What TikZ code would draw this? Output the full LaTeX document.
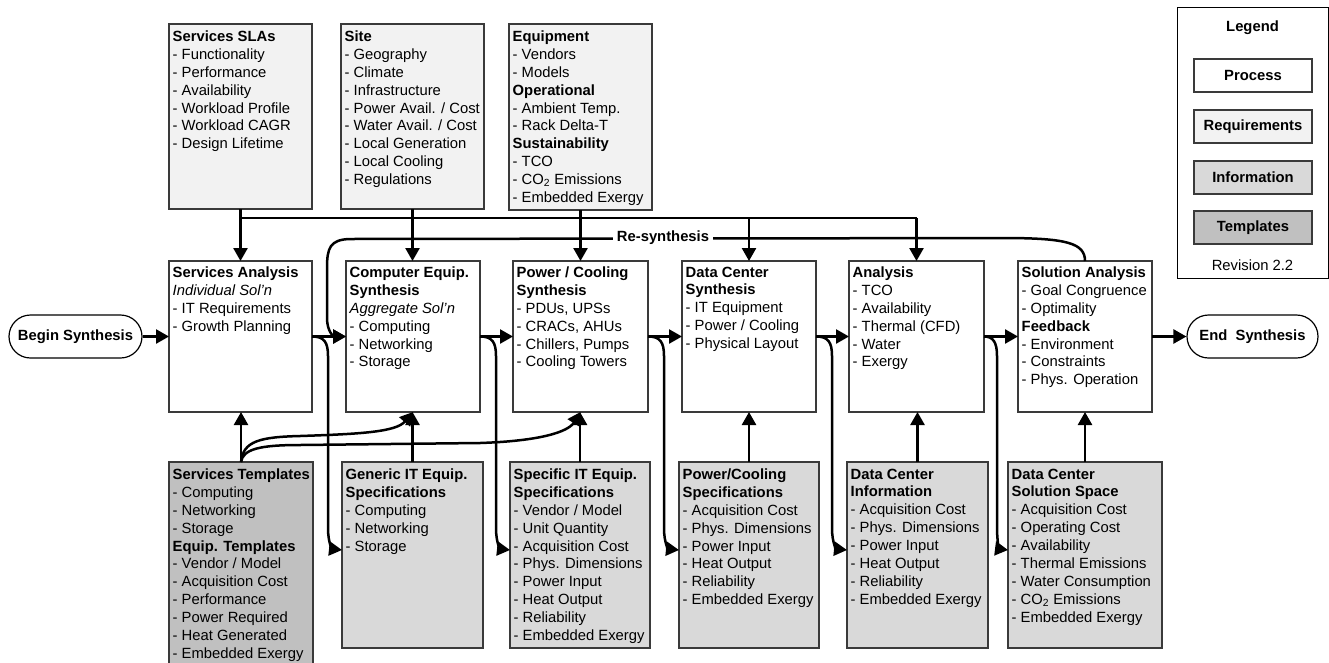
\documentclass[tikz,border=0pt]{standalone}
\usepackage{fontspec}
\setmainfont{Liberation Sans}
\usetikzlibrary{arrows.meta}
\definecolor{reqc}{HTML}{F2F2F2}
\definecolor{infoc}{HTML}{D9D9D9}
\definecolor{tmplc}{HTML}{C0C0C0}
\definecolor{edgec}{HTML}{3A3A3A}
\tikzset{
  bx/.style={draw=edgec, line width=1.2pt, anchor=north west, inner sep=0pt, outer sep=0pt},
  procbox/.style={bx, fill=white, minimum height=151pt},
  reqbox/.style={bx, fill=reqc},
  infobox/.style={bx, fill=infoc, minimum height=186pt},
  tmplbox/.style={bx, fill=tmplc},
  txt/.style={anchor=north west, align=left, inner xsep=3.5pt, inner ysep=6.5pt, font=\fontsize{14.8}{17.9}\selectfont},
  ptxt/.style={txt, inner ysep=5.5pt},
  conn/.style={line width=2.5pt, -{Triangle[length=13pt,width=14pt]}},
  plain/.style={line width=2.5pt},
  term/.style={draw=black, line width=1.2pt, rounded corners=21.5pt, minimum height=43pt, inner sep=0pt, font=\fontsize{14.8}{17.9}\selectfont\bfseries},
  legbox/.style={draw=edgec, line width=1.2pt, minimum width=118pt, minimum height=33pt, inner sep=0pt, font=\fontsize{14.8}{17.9}\selectfont\bfseries},
}
\begin{document}
\begin{tikzpicture}[x=1pt,y=-1pt]
\useasboundingbox (0,0) rectangle (1329,662);

% ---------- top requirement boxes ----------
\node[reqbox, minimum width=143pt, minimum height=185pt] (sla) at (169,24) {};
\node[txt] (slat) at (sla.north west) {\textbf{Services SLAs}\\- Functionality\\- Performance\\- Availability\\- Workload Profile\\- Workload CAGR\\- Design Lifetime};

\node[reqbox, minimum width=143pt, minimum height=185pt] (site) at (341,24) {};
\node[txt] (sitet) at (site.north west) {\textbf{Site}\\- Geography\\- Climate\\- Infrastructure\\- Power Avail. / Cost\\- Water Avail. / Cost\\- Local Generation\\- Local Cooling\\- Regulations};

\node[reqbox, minimum width=143pt, minimum height=186pt] (eq) at (509,24) {};
\node[txt] (eqt) at (eq.north west) {\textbf{Equipment}\\- Vendors\\- Models\\\textbf{Operational}\\- Ambient Temp.\\- Rack Delta-T\\\textbf{Sustainability}\\- TCO\\- CO\textsubscript{2} Emissions\\- Embedded Exergy};

% ---------- process boxes ----------
\node[procbox, minimum width=143pt] (sa) at (169,261) {};
\node[ptxt] (sat) at (sa.north west) {\textbf{Services Analysis}\\\textit{Individual Sol’n}\\- IT Requirements\\- Growth Planning};

\node[procbox, minimum width=134pt] (ce) at (346,261) {};
\node[ptxt] (cet) at (ce.north west) {\textbf{Computer Equip.}\\\textbf{Synthesis}\\\textit{Aggregate Sol’n}\\- Computing\\- Networking\\- Storage};

\node[procbox, minimum width=135pt] (pc) at (513,261) {};
\node[ptxt] (pct) at (pc.north west) {\textbf{Power / Cooling}\\\textbf{Synthesis}\\- PDUs, UPSs\\- CRACs, AHUs\\- Chillers, Pumps\\- Cooling Towers};

\node[procbox, minimum width=134pt] (dc) at (682,261) {};
\node[ptxt] (dct) at (dc.north west) {\textbf{Data Center}\\\textbf{Synthesis}\\- IT Equipment\\- Power / Cooling\\- Physical Layout};

\node[procbox, minimum width=135pt] (an) at (849,261) {};
\node[ptxt] (ant) at (an.north west) {\textbf{Analysis}\\- TCO\\- Availability\\- Thermal (CFD)\\- Water\\- Exergy};

\node[procbox, minimum width=134pt] (sol) at (1018,261) {};
\node[ptxt] (solt) at (sol.north west) {\textbf{Solution Analysis}\\- Goal Congruence\\- Optimality\\\textbf{Feedback}\\- Environment\\- Constraints\\- Phys. Operation};

% ---------- terminals ----------
\node[term, minimum width=133pt] (begin) at (75.5,336.5) {Begin Synthesis};
\node[term, minimum width=131pt] (endn) at (1252.5,336.5) {End\ \ Synthesis};

% ---------- bottom boxes ----------
\node[tmplbox, minimum width=144pt, minimum height=215pt] (st) at (169,462) {};
\node[txt] (stt) at (st.north west) {\textbf{Services Templates}\\- Computing\\- Networking\\- Storage\\\textbf{Equip. Templates}\\- Vendor / Model\\- Acquisition Cost\\- Performance\\- Power Required\\- Heat Generated\\- Embedded Exergy};

\node[infobox, minimum width=141pt] (gen) at (342,462) {};
\node[txt] (gent) at (gen.north west) {\textbf{Generic IT Equip.}\\\textbf{Specifications}\\- Computing\\- Networking\\- Storage};

\node[infobox, minimum width=140pt] (spec) at (510,462) {};
\node[txt] (spect) at (spec.north west) {\textbf{Specific IT Equip.}\\\textbf{Specifications}\\- Vendor / Model\\- Unit Quantity\\- Acquisition Cost\\- Phys. Dimensions\\- Power Input\\- Heat Output\\- Reliability\\- Embedded Exergy};

\node[infobox, minimum width=140pt] (pcs) at (679,462) {};
\node[txt] (pcst) at (pcs.north west) {\textbf{Power/Cooling}\\\textbf{Specifications}\\- Acquisition Cost\\- Phys. Dimensions\\- Power Input\\- Heat Output\\- Reliability\\- Embedded Exergy};

\node[infobox, minimum width=141pt] (dci) at (847,462) {};
\node[txt] (dcit) at (dci.north west) {\textbf{Data Center}\\\textbf{Information}\\- Acquisition Cost\\- Phys. Dimensions\\- Power Input\\- Heat Output\\- Reliability\\- Embedded Exergy};

\node[infobox, minimum width=154pt] (dss) at (1008,462) {};
\node[txt] (dsst) at (dss.north west) {\textbf{Data Center}\\\textbf{Solution Space}\\- Acquisition Cost\\- Operating Cost\\- Availability\\- Thermal Emissions\\- Water Consumption\\- CO\textsubscript{2} Emissions\\- Embedded Exergy};

% ---------- legend ----------
\node[draw=black, line width=1.2pt, anchor=north west, minimum width=151pt, minimum height=271pt, inner sep=0pt] (leg) at (1177,7) {};
\node[font=\fontsize{14.8}{17.9}\selectfont\bfseries] (legt) at (1252.5,28) {Legend};
\node[legbox, fill=white] (lp) at (1253,75.5) {Process};
\node[legbox, fill=reqc] (lr) at (1253,126.5) {Requirements};
\node[legbox, fill=infoc] (li) at (1253,177.5) {Information};
\node[legbox, fill=tmplc] (lt) at (1253,227.5) {Templates};
\node[font=\fontsize{14.8}{17.9}\selectfont] (rev) at (1252.5,265) {Revision 2.2};

% ---------- top connectors ----------
\coordinate (bus) at (0,218);
\draw[plain] (sla.south |- bus) -- (an.north |- bus);
\draw[conn] (sla.south) -- (sla.south |- sa.north);
\draw[conn] (site.south) -- (site.south |- ce.north);
\draw[conn] (eq.south) -- (eq.south |- pc.north);
\draw[conn] (dc.north |- bus) -- (dc.north);
\draw[conn] (an.north |- bus) -- (an.north);

% ---------- re-synthesis loop ----------
\draw[conn] (sol.north) .. controls (1085,243) and (1066,238.5) .. (1010,238) -- (350,239)
  .. controls (330,239.5) and (327,248) .. (327,268) -- (327,318)
  .. controls (327,332) and (334,336.5) .. (ce.west);
\node[font=\fontsize{14.8}{17.9}\selectfont\bfseries, fill=white, inner xsep=4pt, inner ysep=1pt] (rs) at (663,238) {Re-synthesis};

% ---------- main flow ----------
\draw[conn] (begin.east) -- (sa.west);
\draw[conn] (sa.east) -- (ce.west);
\draw[conn] (ce.east) -- (pc.west);
\draw[conn] (pc.east) -- (dc.west);
\draw[conn] (dc.east) -- (an.west);
\draw[conn] (an.east) -- (sol.west);
\draw[conn] (sol.east) -- (endn.west);

% ---------- branches down to information boxes ----------
\draw[conn] (sa.east) .. controls (324,336.5) and (328,342) .. (328,356) -- (328,528)
  .. controls (328,544) and (333,549) .. ([yshift=5pt]gen.west);
\draw[conn] (ce.east) .. controls (492,336.5) and (496,342) .. (496,356) -- (496,528)
  .. controls (496,544) and (501,549) .. ([yshift=5pt]spec.west);
\draw[conn] (pc.east) .. controls (660,336.5) and (664,342) .. (664,356) -- (664,528)
  .. controls (664,544) and (669,549) .. ([yshift=5pt]pcs.west);
\draw[conn] (dc.east) .. controls (828,336.5) and (832,342) .. (832,356) -- (832,528)
  .. controls (832,544) and (837,549) .. ([yshift=5pt]dci.west);
\draw[conn] (an.east) .. controls (993,336.5) and (997,342) .. (997,356) -- (997,528)
  .. controls (997,543) and (1000,549) .. ([yshift=5pt]dss.west);

% ---------- bottom connectors up ----------
\draw[conn] (st.north) -- (st.north |- sa.south);
\draw[conn] (gen.north) -- (gen.north |- ce.south);
\draw[conn] (spec.north) -- (spec.north |- pc.south);
\draw[conn] (pcs.north) -- (pcs.north |- dc.south);
\draw[conn] (dci.north) -- (dci.north |- an.south);
\draw[conn] (dss.north) -- (dss.north |- sol.south);

\draw[conn] (st.north) .. controls (243,441) and (260,437) .. (300,436)
  .. controls (360,434) and (396,432) .. (ce.south);
\draw[conn] (st.north) .. controls (243,449) and (260,445) .. (300,445) -- (480,443)
  .. controls (540,441) and (568,432) .. (pc.south);
\end{tikzpicture}
\end{document}
